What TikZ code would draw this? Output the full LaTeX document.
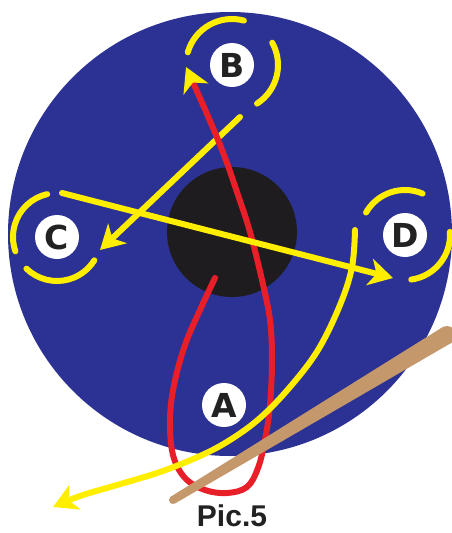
\documentclass[tikz,border=0pt]{standalone}
\usepackage{fontspec}
\setmainfont{Liberation Sans}
\newfontfamily\letterfont{DejaVu Sans}
\usetikzlibrary{arrows.meta}
\definecolor{diskblue}{RGB}{44,50,148}
\definecolor{holeblack}{RGB}{30,28,30}
\definecolor{ylw}{RGB}{255,238,0}
\definecolor{rd}{RGB}{232,30,40}
\definecolor{tan}{RGB}{196,152,106}
\definecolor{txt}{RGB}{34,34,34}
\begin{document}
\begin{tikzpicture}[x=1pt,y=-1pt,
  yline/.style={draw=ylw,line width=6pt,line cap=round},
  rline/.style={draw=rd,line width=6pt,line cap=round},
  ytip/.style={-{Stealth[length=24pt,width=27pt,inset=7pt]}},
  rtip/.style={-{Stealth[length=24pt,width=27pt,inset=7pt,color=ylw]}},
  letter/.style={circle,fill=white,minimum size=44pt,inner sep=0pt,
    font=\letterfont\fontsize{33}{33}\selectfont\bfseries,text=txt},
  caption/.style={font=\fontsize{30}{30}\selectfont\bfseries,text=txt,anchor=base,inner sep=0pt}]
\useasboundingbox (0,0) rectangle (452,533);
\fill[white] (0,0) rectangle (452,533);
% disk and hole
\fill[diskblue] (230,234) circle[radius=222];
\fill[holeblack] (232,232) circle[radius=65];
% letter positions
\coordinate (Bc) at (232,65);
\coordinate (Cc) at (57,237);
\coordinate (Dc) at (405,235);
\coordinate (Ac) at (224,405);
% arcs (angles negated because y is flipped)
\draw[yline] (Bc) ++(-75:46) arc[start angle=-75,end angle=-164,radius=46];
\draw[yline] (Bc) ++(57:46) arc[start angle=57,end angle=-29,radius=46];
\draw[yline] (Cc) ++(-103:44) arc[start angle=-103,end angle=-199,radius=44];
\draw[yline] (Cc) ++(-226:44) arc[start angle=-226,end angle=-328,radius=44];
\draw[yline] (Dc) ++(-67:45) arc[start angle=-67,end angle=-150,radius=45];
\draw[yline] (Dc) ++(82:45) arc[start angle=82,end angle=-4,radius=45];
% letters
\node[letter] (B) at (Bc) {B};
\node[letter] (C) at (Cc) {C};
\node[letter] (D) at (Dc) {D};
\node[letter] (A) at (Ac) {A};
% yellow B -> C
\coordinate (bcstart) at (240,117);
\coordinate (bcend) at (100,250);
\draw[yline,ytip] (bcstart) -- (bcend);
% red path
\draw[rline,rtip] plot[smooth,tension=0.6] coordinates {(215,278) (200,310) (185,345) (174,385) (170,420) (173,455) (185,478) (205,490) (227,493) (247,487) (258,468) (265,440) (270,405) (272,360) (270,320) (262,280) (250,232) (238,195) (224,155) (207,114) (186,67)};
% stick
\fill[tan] (451.6,342.7) -- (442.4,327.3) -- (170.9,496.6) -- (175.1,503.4) -- cycle;
\fill[tan] (447,335) circle[radius=9];
\fill[tan] (173,500) circle[radius=4];
% yellow C -> D
\coordinate (cdstart) at (62,193);
\coordinate (cdend) at (393,278);
\draw[yline,ytip] (cdstart) -- (cdend);
% yellow curve from D to lower left
\draw[yline,ytip] plot[smooth,tension=0.6] coordinates {(355,230) (352,267) (340,305) (318,350) (290,387) (260,418) (230,440) (200,456) (160,472) (117,485) (80,496) (53,507)};
% caption
\node[caption] (cap) at (232,526) {Pic.5};
\end{tikzpicture}
\end{document}
